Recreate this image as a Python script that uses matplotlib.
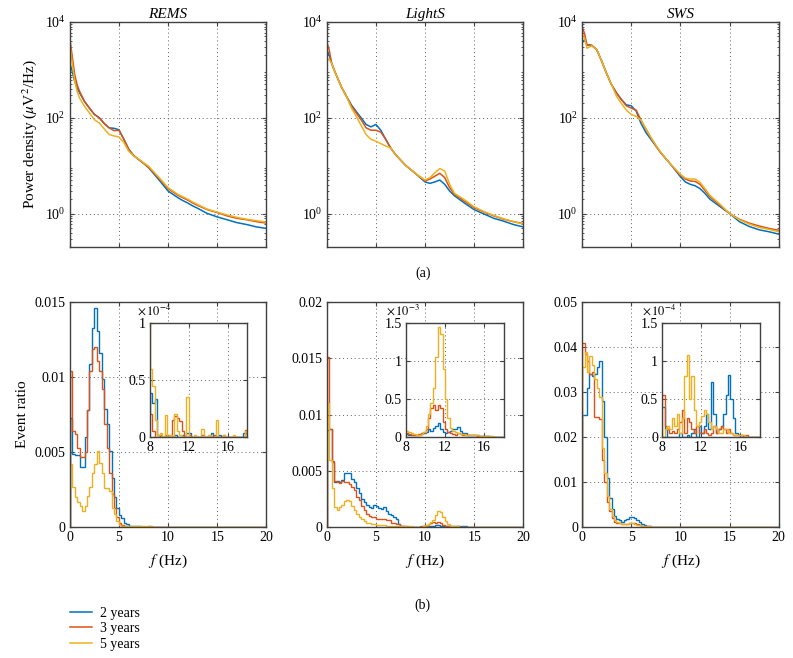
import numpy as np
import matplotlib
matplotlib.use('Agg')
import matplotlib.pyplot as plt
from matplotlib.ticker import FuncFormatter, LogLocator, NullFormatter
from matplotlib.lines import Line2D

plt.rcParams['font.family'] = 'serif'
plt.rcParams['font.serif'] = ['Liberation Serif', 'DejaVu Serif']
plt.rcParams['mathtext.fontset'] = 'stix'

groups = ['2 years', '3 years', '5 years']
colors = ['#0072BD', '#D95319', '#EDB120']
states = ['REMS', 'LightS', 'SWS']

# ---- (a) power spectra, values are log10(uV^2/Hz)
psd_freq = [0, 0.25, 0.5, 0.75, 1, 1.5, 2, 2.5, 3, 3.5, 4, 4.5, 5, 5.5, 6, 6.5, 7,
            7.5, 8, 9, 10, 10.5, 11, 11.5, 12, 12.5, 13, 14, 15, 16, 17, 18, 19, 20]

rems_psd_2y = [3.14, 2.97, 2.76, 2.62, 2.52, 2.34, 2.2, 2.07, 2.0, 1.88, 1.79, 1.78, 1.75, 1.55,
               1.34, 1.21, 1.13, 1.05, 0.96, 0.72, 0.47, 0.40, 0.33, 0.27, 0.22, 0.16, 0.11,
               0.0, -0.07, -0.13, -0.19, -0.23, -0.28, -0.31]
rems_psd_3y = [3.66, 3.28, 2.9, 2.69, 2.55, 2.34, 2.2, 2.07, 2.0, 1.88, 1.79, 1.73, 1.74, 1.55,
               1.34, 1.21, 1.13, 1.05, 0.97, 0.75, 0.52, 0.45, 0.38, 0.33, 0.28, 0.22, 0.17,
               0.08, 0.02, -0.05, -0.1, -0.13, -0.17, -0.2]
rems_psd_5y = [3.56, 3.14, 2.76, 2.55, 2.41, 2.24, 2.1, 1.96, 1.89, 1.77, 1.65, 1.62, 1.60, 1.48,
               1.3, 1.2, 1.14, 1.06, 0.99, 0.77, 0.54, 0.47, 0.40, 0.35, 0.30, 0.24, 0.19,
               0.09, 0.03, -0.03, -0.08, -0.12, -0.15, -0.18]

lights_psd_2y = [3.42, 3.31, 3.14, 3.0, 2.88, 2.64, 2.45, 2.27, 2.13, 2.0, 1.86, 1.81, 1.86, 1.74,
                 1.55, 1.37, 1.23, 1.12, 1.01, 0.84, 0.66, 0.63, 0.66, 0.70, 0.61, 0.47, 0.37,
                 0.22, 0.08, -0.01, -0.1, -0.16, -0.23, -0.28]
lights_psd_3y = [3.59, 3.42, 3.14, 3.0, 2.88, 2.64, 2.45, 2.25, 2.1, 1.96, 1.79, 1.74, 1.74, 1.70,
                 1.55, 1.37, 1.23, 1.12, 1.01, 0.84, 0.68, 0.72, 0.78, 0.84, 0.75, 0.54, 0.40,
                 0.26, 0.12, 0.03, -0.05, -0.12, -0.17, -0.21]
lights_psd_5y = [3.24, 3.21, 3.14, 3.0, 2.88, 2.64, 2.45, 2.21, 2.03, 1.84, 1.65, 1.55, 1.51, 1.46,
                 1.41, 1.37, 1.23, 1.12, 1.01, 0.84, 0.70, 0.75, 0.85, 0.94, 0.89, 0.61, 0.42,
                 0.29, 0.14, 0.04, -0.04, -0.11, -0.17, -0.22]

sws_psd_2y = [3.56, 3.63, 3.52, 3.52, 3.51, 3.42, 3.18, 2.92, 2.69, 2.52, 2.38, 2.27, 2.25, 2.14,
              1.88, 1.69, 1.55, 1.41, 1.27, 1.03, 0.77, 0.66, 0.61, 0.58, 0.52, 0.42, 0.30,
              0.15, 0.0, -0.17, -0.27, -0.34, -0.38, -0.43]
sws_psd_3y = [3.9, 3.76, 3.52, 3.52, 3.51, 3.42, 3.18, 2.92, 2.69, 2.52, 2.38, 2.25, 2.2, 2.16,
              1.95, 1.76, 1.58, 1.42, 1.27, 1.03, 0.80, 0.72, 0.68, 0.67, 0.61, 0.48, 0.35,
              0.18, 0.0, -0.12, -0.2, -0.26, -0.31, -0.35]
sws_psd_5y = [3.76, 3.66, 3.45, 3.48, 3.5, 3.42, 3.18, 2.92, 2.69, 2.45, 2.30, 2.16, 2.07, 2.03,
              1.95, 1.77, 1.59, 1.43, 1.28, 1.03, 0.82, 0.74, 0.72, 0.72, 0.65, 0.52, 0.38,
              0.20, 0.0, -0.13, -0.22, -0.29, -0.33, -0.38]

# ---- (b) event ratio histograms, 0.25 Hz bins
# 0-8 Hz in units of 1e-3
rems_low_2y = [7.3, 4.9, 4.8, 4.8, 4.0, 4.0, 6.0, 7.8, 10.9, 13.3, 14.6, 13.1, 11.6, 9.9, 7.9, 6.9,
               5.1, 3.3, 2.0, 1.3, 0.8, 0.6, 0.3, 0.2, 0.1, 0.1, 0.05, 0.05, 0.05, 0.03, 0.02, 0.02]
rems_low_3y = [10.4, 6.4, 6.2, 5.3, 4.7, 4.7, 5.0, 7.8, 10.4, 11.9, 12.0, 11.1, 10.4, 9.2, 6.9, 5.3,
               3.6, 2.2, 1.3, 0.7, 0.3, 0.15, 0.1, 0.05, 0.03, 0.02, 0.02, 0.02, 0.02, 0.02, 0.02, 0.02]
rems_low_5y = [4.2, 2.7, 2.0, 1.7, 1.4, 1.1, 1.4, 2.1, 2.7, 3.6, 4.2, 5.1, 4.3, 3.6, 2.6, 2.6,
               2.4, 1.3, 0.9, 0.4, 0.15, 0.1, 0.05, 0.05, 0.05, 0.05, 0.05, 0.05, 0.05, 0.05, 0.1, 0.1]

lights_low_2y = [8.6, 8.7, 5.8, 4.0, 4.1, 4.0, 4.2, 4.8, 4.8, 4.8, 4.3, 4.0, 3.5, 3.0, 2.5, 2.2,
                 2.0, 1.8, 1.7, 2.0, 1.9, 1.7, 1.6, 1.8, 1.4, 1.2, 1.1, 0.9, 0.7, 0.3, 0.1, 0.06]
lights_low_3y = [15.1, 8.7, 5.9, 4.1, 4.0, 3.9, 4.1, 4.0, 4.0, 3.8, 3.6, 3.3, 2.7, 2.4, 1.9, 1.5,
                 1.2, 1.0, 0.9, 0.9, 0.7, 0.7, 0.7, 0.7, 0.6, 0.6, 0.4, 0.4, 0.3, 0.3, 0.1, 0.05]
lights_low_5y = [11.0, 6.0, 3.5, 1.8, 1.5, 1.8, 2.0, 2.3, 2.4, 2.3, 1.9, 1.5, 1.2, 0.9, 0.7, 0.5,
                 0.4, 0.4, 0.3, 0.3, 0.2, 0.2, 0.2, 0.2, 0.1, 0.1, 0.1, 0.1, 0.08, 0.08, 0.08, 0.08]

sws_low_2y = [25.0, 24.8, 31.0, 34.0, 33.5, 34.0, 35.5, 36.8, 28.0, 20.0, 10.8, 6.5, 4.0, 2.5, 1.8, 1.5,
              1.2, 1.5, 1.8, 2.2, 2.3, 2.0, 1.5, 1.1, 0.7, 0.5, 0.3, 0.2, 0.1, 0.05, 0.05, 0.04]
sws_low_3y = [41.0, 38.5, 37.0, 34.0, 34.5, 24.4, 24.5, 24.0, 15.0, 10.0, 5.5, 3.5, 2.0, 1.2, 1.0, 0.8,
              0.6, 0.6, 0.7, 0.9, 1.0, 0.8, 0.6, 0.4, 0.3, 0.25, 0.2, 0.15, 0.1, 0.05, 0.05, 0.05]
sws_low_5y = [35.5, 39.0, 34.5, 38.0, 36.0, 33.0, 31.0, 29.0, 17.5, 12.0, 7.0, 4.0, 2.5, 1.5, 1.2, 0.8,
              0.6, 0.6, 0.7, 0.8, 0.8, 0.7, 0.5, 0.4, 0.3, 0.25, 0.2, 0.15, 0.1, 0.05, 0.05, 0.05]

# 8-20 Hz in inset units (REMS, SWS: 1e-4 ; LightS: 1e-3)
rems_high_2y = [0.39, 0.30, 0.33, 0.02, 0, 0, 0.02, 0, 0, 0, 0.02, 0, 0, 0.02, 0, 0.03,
                0.03, 0, 0, 0, 0, 0, 0, 0, 0, 0.03, 0, 0, 0.02, 0, 0, 0,
                0, 0, 0, 0, 0, 0, 0.03, 0.03, 0, 0, 0, 0, 0, 0, 0, 0]
rems_high_3y = [0.2, 0.05, 0, 0, 0.02, 0, 0, 0.02, 0, 0.15, 0.18, 0.17, 0.14, 0.05, 0, 0,
                0.02, 0, 0, 0, 0, 0.02, 0, 0, 0, 0, 0.02, 0, 0, 0, 0.02, 0,
                0, 0, 0, 0, 0, 0, 0, 0.06, 0.03, 0, 0, 0, 0, 0, 0, 0]
rems_high_5y = [0.6, 0.45, 0.15, 0.02, 0.03, 0, 0.19, 0, 0.02, 0, 0.2, 0.05, 0.02, 0, 0, 0.35,
                0, 0, 0.02, 0, 0, 0.07, 0, 0, 0.02, 0, 0, 0.15, 0, 0, 0.02, 0,
                0, 0, 0.02, 0, 0, 0, 0, 0.05, 0, 0, 0, 0, 0, 0, 0, 0]

lights_high_2y = [0.04, 0.03, 0.02, 0.02, 0.02, 0.03, 0.04, 0.05, 0.06, 0.1, 0.08, 0.12, 0.15, 0.18, 0.1, 0.06,
                  0.05, 0.06, 0.08, 0.1, 0.1, 0.13, 0.08, 0.05, 0.05, 0.03, 0.03, 0.02, 0.02, 0.02, 0.01, 0.01,
                  0.01, 0.01, 0.01, 0, 0, 0, 0, 0, 0, 0, 0, 0, 0, 0, 0, 0]
lights_high_3y = [0.05, 0.04, 0.03, 0.03, 0.03, 0.04, 0.05, 0.07, 0.1, 0.25, 0.38, 0.42, 0.35, 0.42, 0.38, 0.2,
                  0.1, 0.06, 0.05, 0.04, 0.03, 0.05, 0.04, 0.03, 0.03, 0.02, 0.02, 0.02, 0.02, 0.01, 0.01, 0.01,
                  0.01, 0.01, 0, 0, 0, 0, 0, 0, 0, 0, 0, 0, 0, 0, 0, 0]
lights_high_5y = [0.08, 0.06, 0.05, 0.04, 0.03, 0.03, 0.04, 0.06, 0.15, 0.3, 0.45, 0.65, 1.05, 1.45, 1.35, 0.9,
                  0.5, 0.25, 0.12, 0.08, 0.06, 0.05, 0.04, 0.04, 0.03, 0.03, 0.02, 0.02, 0.02, 0.02, 0.01, 0.01,
                  0.01, 0.01, 0.01, 0.01, 0, 0, 0, 0, 0, 0, 0, 0, 0, 0, 0, 0]

sws_high_2y = [0.4, 0.1, 0, 0, 0, 0, 0, 0.05, 0, 0, 0.02, 0, 0.05, 0.1, 0, 0.15,
               0.05, 0.15, 0.3, 0.1, 0.72, 0.3, 0.05, 0.1, 0.15, 0.3, 0.55, 0.82, 0.5, 0.25, 0.05, 0.02,
               0.02, 0, 0, 0, 0, 0, 0, 0, 0, 0, 0, 0, 0, 0, 0, 0]
sws_high_3y = [0.55, 0.15, 0.1, 0.05, 0.08, 0.05, 0.1, 0.2, 0.35, 0.05, 0.25, 0.2, 0.1, 0.05, 0.15, 0.05,
               0.05, 0.1, 0.05, 0.02, 0.05, 0.15, 0.05, 0.1, 0.15, 0.1, 0.05, 0.1, 0.05, 0.02, 0.02, 0.02,
               0.02, 0, 0.02, 0, 0, 0, 0, 0, 0, 0, 0, 0, 0, 0, 0, 0]
sws_high_5y = [0.0, 0.1, 0.15, 0.1, 0.25, 0.15, 0.3, 0.05, 0.25, 0.8, 1.08, 0.5, 0.8, 0.35, 0.15, 0.2,
               0.28, 0.35, 0.3, 0.2, 0.1, 0.15, 0.1, 0.05, 0.05, 0.1, 0.1, 0.05, 0.05, 0.02, 0.02, 0.02,
               0.02, 0.02, 0, 0, 0, 0, 0, 0, 0, 0, 0, 0, 0, 0, 0, 0]

bin_edges = np.arange(0, 20.001, 0.25)

psd_data = {
    'REMS': [rems_psd_2y, rems_psd_3y, rems_psd_5y],
    'LightS': [lights_psd_2y, lights_psd_3y, lights_psd_5y],
    'SWS': [sws_psd_2y, sws_psd_3y, sws_psd_5y],
}
low_data = {
    'REMS': [rems_low_2y, rems_low_3y, rems_low_5y],
    'LightS': [lights_low_2y, lights_low_3y, lights_low_5y],
    'SWS': [sws_low_2y, sws_low_3y, sws_low_5y],
}
high_data = {
    'REMS': [rems_high_2y, rems_high_3y, rems_high_5y],
    'LightS': [lights_high_2y, lights_high_3y, lights_high_5y],
    'SWS': [sws_high_2y, sws_high_3y, sws_high_5y],
}
inset_exp = {'REMS': -4, 'LightS': -3, 'SWS': -4}
main_ymax = {'REMS': 0.015, 'LightS': 0.02, 'SWS': 0.05}
main_ystep = {'REMS': 0.005, 'LightS': 0.005, 'SWS': 0.01}
inset_ymax = {'REMS': 1.0, 'LightS': 1.5, 'SWS': 1.5}
exp_text_x = {'REMS': -0.13, 'LightS': -0.21, 'SWS': -0.21}

spine_col = '#404040'
grid_kw = dict(color='#606060', linestyle=(0, (1, 3)), linewidth=0.7)


def style_axes(ax, size=10):
    for s in ax.spines.values():
        s.set_color(spine_col)
        s.set_linewidth(1.0)
    ax.tick_params(direction='in', top=True, right=True, length=3, width=0.8,
                   color=spine_col, labelsize=size, pad=3)
    ax.tick_params(which='minor', direction='in', top=True, right=True, length=1.5,
                   width=0.6, color=spine_col)
    ax.grid(True, which='major', **grid_kw)
    ax.set_axisbelow(True)


fig = plt.figure(figsize=(7.93, 6.58), dpi=100)

lefts = [0.088, 0.412, 0.734]
width = 0.248
inset_lefts = [0.189, 0.512, 0.835]

for i, st in enumerate(states):
    # top row: spectra
    ax = fig.add_axes([lefts[i], 0.6246, width, 0.342])
    for vals, c in zip(psd_data[st], colors):
        ax.plot(psd_freq, 10 ** np.array(vals), color=c, lw=1.1)
    ax.set_yscale('log')
    ax.set_xlim(0, 20)
    ax.set_ylim(0.2, 1e4)
    ax.set_xticks([0, 5, 10, 15, 20])
    ax.set_xticklabels([])
    ax.set_yticks([1, 1e2, 1e4])
    ax.yaxis.set_minor_locator(LogLocator(base=10, subs=np.arange(2, 10), numticks=20))
    ax.yaxis.set_minor_formatter(NullFormatter())
    style_axes(ax)
    ax.set_title(st, fontsize=11, style='italic', pad=3)
    if i == 0:
        ax.set_ylabel(r'Power density ($\mu$V$^2$/Hz)', fontsize=11)

    # bottom row: event ratio
    axb = fig.add_axes([lefts[i], 0.199, width, 0.342])
    ratios = []
    for lo, hi in zip(low_data[st], high_data[st]):
        ratios.append(np.concatenate([np.array(lo) * 1e-3,
                                      np.array(hi) * 10.0 ** inset_exp[st]]))
    for r, c in zip(ratios, colors):
        axb.stairs(r, bin_edges, color=c, lw=1.0)
    axb.set_xlim(0, 20)
    axb.set_ylim(0, main_ymax[st])
    axb.set_xticks([0, 5, 10, 15, 20])
    axb.set_yticks(np.arange(0, main_ymax[st] + 1e-9, main_ystep[st]))
    axb.yaxis.set_major_formatter(FuncFormatter(lambda v, p: '%g' % round(v, 4)))
    style_axes(axb)
    axb.set_xlabel(r'$f$ (Hz)', fontsize=11, labelpad=6)
    if i == 0:
        axb.set_ylabel('Event ratio', fontsize=11)

    # inset 8-18 Hz
    axi = fig.add_axes([inset_lefts[i], 0.336, 0.123, 0.173])
    scale = 10.0 ** inset_exp[st]
    for r, c in zip(ratios, colors):
        axi.stairs(r / scale, bin_edges, color=c, lw=1.0)
    axi.set_xlim(8, 18)
    axi.set_ylim(0, inset_ymax[st])
    axi.set_xticks([8, 12, 16])
    axi.set_yticks(np.arange(0, inset_ymax[st] + 1e-9, 0.5))
    axi.yaxis.set_major_formatter(FuncFormatter(lambda v, p: '%g' % v))
    style_axes(axi)
    axi.text(exp_text_x[st], 1.05, r'$\times\,10^{%d}$' % inset_exp[st], transform=axi.transAxes,
             ha='left', va='bottom', fontsize=9)

fig.text(0.533, 0.585, '(a)', ha='center', va='center', fontsize=10)
fig.text(0.533, 0.080, '(b)', ha='center', va='center', fontsize=10)

handles = [Line2D([], [], color=c, lw=1.1) for c in colors]
fig.legend(handles, groups, loc='upper left', bbox_to_anchor=(0.072, 0.097),
           frameon=False, fontsize=10, handlelength=1.6, handletextpad=0.6,
           labelspacing=0.18)

fig.savefig('out.png', dpi=100)
